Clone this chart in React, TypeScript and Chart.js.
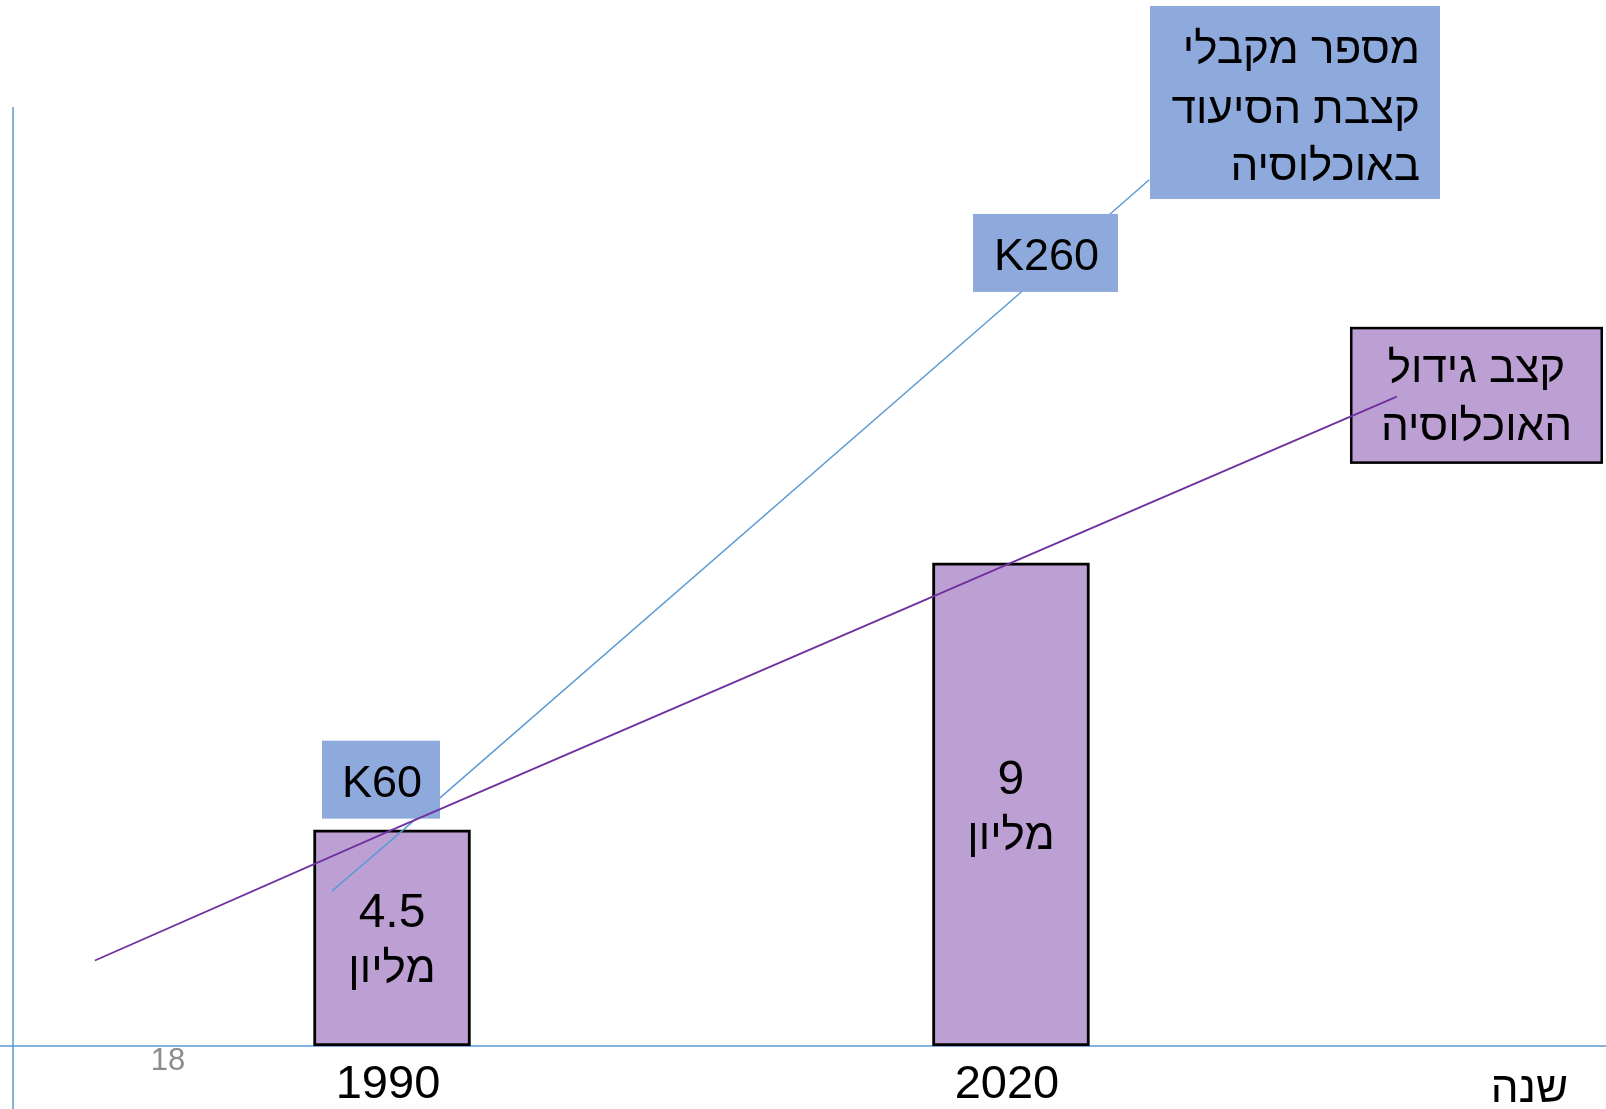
import React, { useEffect, useRef } from "react";
import { Chart, registerables } from "chart.js";

Chart.register(...registerables);

// ---- data ----
const years = [1990, 2020];
const populationMillions = [4.5, 9];
const populationUnit = "מליון";
const populationTrendYears = [1975.6, 1990, 2020, 2038.7];
const populationTrendValues = [2.3, 4.5, 9, 11.8];
const recipientsTrendYears = [1987.1, 1990, 2020, 2026.7];
const recipientsTrendValues = [41, 60, 260, 305];
const recipientsLabels = ["K60", "K260"];
const recipientsTitle = ["מספר מקבלי", "קצבת הסיעוד", "באוכלוסיה"];
const populationTitle = ["קצב גידול", "האוכלוסיה"];
const axisTitle = "שנה";
const slideNumber = "18";

// ---- scale ranges ----
const X_MIN = 1971.63;
const X_MAX = 2048.84;
const Y_MIN = 0.86;
const Y_MAX = 16.68;
const Y2_MIN = -16.6;
const Y2_MAX = 332;

// ---- styles ----
const FONT = '"Liberation Sans", Arial, "DejaVu Sans", sans-serif';
const AXIS_COLOR = "#5B9BD5";
const BLUE_LINE = "#5B9BD5";
const PURPLE_LINE = "#7030A0";
const BAR_FILL = "#BDA0D3";
const BLUE_BOX = "#8EAADC";
const HEB_SIZE = 44;

function drawBox(ctx: CanvasRenderingContext2D, cx: number, cy: number, w: number, h: number, fill: string, stroke?: string) {
  ctx.fillStyle = fill;
  ctx.fillRect(cx - w / 2, cy - h / 2, w, h);
  if (stroke) {
    const lw = 2.5;
    ctx.lineWidth = lw;
    ctx.strokeStyle = stroke;
    ctx.strokeRect(cx - w / 2 + lw / 2, cy - h / 2 + lw / 2, w - lw, h - lw);
  }
}

const overlayPlugin = {
  id: "overlay",
  beforeDatasetsDraw(chart: any) {
    const { ctx, chartArea: a } = chart;
    ctx.save();
    ctx.strokeStyle = AXIS_COLOR;
    ctx.lineWidth = 1.5;
    ctx.beginPath();
    ctx.moveTo(a.left, a.top);
    ctx.lineTo(a.left, chart.height);
    ctx.moveTo(0, a.bottom);
    ctx.lineTo(chart.width, a.bottom);
    ctx.stroke();

    ctx.textBaseline = "alphabetic";
    ctx.fillStyle = "#8C8C8C";
    ctx.font = `31px ${FONT}`;
    ctx.textAlign = "center";
    ctx.fillText(slideNumber, a.left + 155, a.bottom + 24);

    ctx.fillStyle = "#000";
    ctx.font = `${HEB_SIZE}px ${FONT}`;
    ctx.direction = "rtl";
    ctx.textAlign = "right";
    ctx.fillText(axisTitle, a.right - 38, a.bottom + 56);
    ctx.restore();
  },
  afterDatasetDraw(chart: any, args: any) {
    const { ctx } = chart;
    const xs = chart.scales.x;
    const ys = chart.scales.y;
    const y2s = chart.scales.y2;
    ctx.save();
    ctx.textBaseline = "alphabetic";
    if (args.index === 0) {
      const meta = chart.getDatasetMeta(0);
      meta.data.forEach((el: any, i: number) => {
        const mid = (el.y + el.base) / 2;
        ctx.fillStyle = "#000";
        ctx.textAlign = "center";
        ctx.direction = "ltr";
        ctx.font = `48px ${FONT}`;
        ctx.fillText(String(populationMillions[i]), el.x, mid - 10.5);
        ctx.direction = "rtl";
        ctx.font = `${HEB_SIZE}px ${FONT}`;
        ctx.fillText(populationUnit, el.x, mid + 44.5);
      });
    }
    if (args.index === 1) {
      // small value boxes anchored to the recipients line at 1990 / 2020
      const offsets = [
        { dx: -11, dy: -60, w: 118, h: 78 },
        { dx: 34.5, dy: -48, w: 145, h: 78 },
      ];
      years.forEach((yr, i) => {
        const vi = recipientsTrendYears.indexOf(yr);
        const px = xs.getPixelForValue(yr);
        const py = y2s.getPixelForValue(recipientsTrendValues[vi]);
        const o = offsets[i];
        const cx = px + o.dx;
        const cy = py + o.dy;
        drawBox(ctx, cx, cy, o.w, o.h, BLUE_BOX);
        ctx.fillStyle = "#000";
        ctx.font = `45px ${FONT}`;
        ctx.textAlign = "center";
        ctx.direction = "ltr";
        ctx.fillText(recipientsLabels[i], cx + 1, cy + 17);
      });
      // recipients title box anchored at the end of the blue line
      {
        const n = recipientsTrendYears.length - 1;
        const px = xs.getPixelForValue(recipientsTrendYears[n]);
        const py = y2s.getPixelForValue(recipientsTrendValues[n]);
        const cx = px + 145.8;
        const cy = py - 77.2;
        drawBox(ctx, cx, cy, 290, 193, BLUE_BOX);
        ctx.fillStyle = "#000";
        ctx.font = `${HEB_SIZE}px ${FONT}`;
        ctx.direction = "rtl";
        ctx.textAlign = "right";
        const dys = [-39.5, 20.5, 77.5];
        recipientsTitle.forEach((t, k) => ctx.fillText(t, cx + 125, cy + dys[k]));
      }
      // population title box anchored at the end of the purple line
      {
        const n = populationTrendYears.length - 1;
        const px = xs.getPixelForValue(populationTrendYears[n]);
        const py = ys.getPixelForValue(populationTrendValues[n]);
        const cx = px + 79.7;
        const cy = py - 1.3;
        drawBox(ctx, cx, cy, 253, 137, BAR_FILL, "#000");
        ctx.fillStyle = "#000";
        ctx.font = `${HEB_SIZE}px ${FONT}`;
        ctx.direction = "rtl";
        ctx.textAlign = "center";
        const dys = [-13.5, 44.5];
        populationTitle.forEach((t, k) => ctx.fillText(t, cx, cy + dys[k]));
      }
    }
    ctx.restore();
  },
};

export default function App() {
  const ref = useRef<HTMLCanvasElement>(null);
  useEffect(() => {
    document.body.style.margin = "0";
    const canvas = ref.current;
    if (!canvas) return;
    const chart = new Chart(canvas, {
      type: "bar",
      data: {
        datasets: [
          {
            type: "bar",
            label: "population",
            data: years.map((x, i) => ({ x, y: populationMillions[i] })),
            yAxisID: "y",
            backgroundColor: BAR_FILL,
            borderColor: "#000",
            borderWidth: 3,
            borderSkipped: false,
            barThickness: 157,
            base: Y_MIN,
            clip: false,
            order: 3,
          } as any,
          {
            type: "line",
            label: "recipients",
            data: recipientsTrendYears.map((x, i) => ({ x, y: recipientsTrendValues[i] })),
            yAxisID: "y2",
            borderColor: BLUE_LINE,
            borderWidth: 1.5,
            pointRadius: 0,
            fill: false,
            tension: 0,
            clip: false,
            order: 2,
          } as any,
          {
            type: "line",
            label: "growth",
            data: populationTrendYears.map((x, i) => ({ x, y: populationTrendValues[i] })),
            yAxisID: "y",
            borderColor: PURPLE_LINE,
            borderWidth: 1.8,
            pointRadius: 0,
            fill: false,
            tension: 0,
            clip: false,
            order: 1,
          } as any,
        ],
      },
      options: {
        responsive: false,
        animation: false,
        devicePixelRatio: 1,
        events: [],
        layout: { padding: { left: 13, top: 107, right: 0, bottom: 0 } },
        plugins: { legend: { display: false }, tooltip: { enabled: false } },
        scales: {
          x: {
            type: "linear",
            min: X_MIN,
            max: X_MAX,
            offset: false,
            grid: { display: false, drawTicks: false },
            border: { display: false },
            afterBuildTicks: (s: any) => {
              s.ticks = years.map((v) => ({ value: v }));
            },
            afterFit: (s: any) => {
              s.height = 63;
            },
            ticks: {
              font: { size: 47, family: FONT, lineHeight: 1 },
              color: "#000",
              padding: 16,
              labelOffset: -4,
              maxRotation: 0,
              autoSkip: false,
              callback: (v: any) => String(v),
            },
          } as any,
          y: { type: "linear", display: false, min: Y_MIN, max: Y_MAX, beginAtZero: false },
          y2: { type: "linear", display: false, position: "right", min: Y2_MIN, max: Y2_MAX, beginAtZero: false },
        },
      },
      plugins: [overlayPlugin],
    } as any);
    return () => chart.destroy();
  }, []);
  return (
    <div style={{ position: "absolute", left: 0, top: 0, width: 1606, height: 1109, background: "#fff" }}>
      <canvas ref={ref} width={1606} height={1109} style={{ display: "block" }} />
    </div>
  );
}
